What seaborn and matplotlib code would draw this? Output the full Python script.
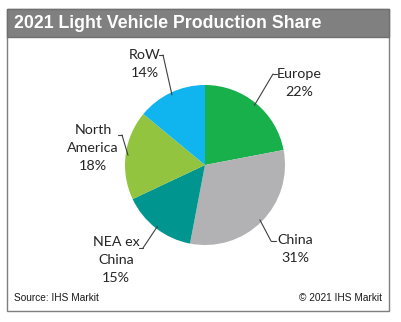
import matplotlib
matplotlib.use("Agg")
import matplotlib.pyplot as plt
from matplotlib.patches import Rectangle
import seaborn as sns
import numpy as np

title = "2021 Light Vehicle Production Share"
categories = ["Europe", "China", "NEA ex\nChina", "North\nAmerica", "RoW"]
shares = [22, 31, 15, 18, 14]
colors = ["#17b04b", "#b2b2b4", "#00968f", "#92c43f", "#10b4ee"]
source_text = "Source: IHS Markit"
copyright_text = "\u00a9 2021 IHS Markit"

sns.set_theme(style="white")
plt.rcParams["font.family"] = ["Lato", "DejaVu Sans"]

W, H = 401, 322
fig = plt.figure(figsize=(W / 100, H / 100), dpi=100)
fig.patch.set_facecolor("white")

def fx(px):
    return px / W

def fy(py):
    return 1 - py / H

# outer frame
fig.patches.append(Rectangle((fx(7), fy(311)), fx(389) - fx(7), fy(9) - fy(311),
                             transform=fig.transFigure, fill=False,
                             edgecolor="#7f7f7f", linewidth=1.0))
# header bar
fig.patches.append(Rectangle((fx(7), fy(37)), fx(389) - fx(7), fy(9) - fy(37),
                             transform=fig.transFigure, facecolor="#808080",
                             edgecolor="#6f6f6f", linewidth=1.0))
fig.text(fx(14), fy(23.5), title, color="white", fontsize=12.8, fontweight="bold",
         family=["Liberation Sans", "DejaVu Sans"], va="center", ha="left")

# pie axes: center (205,165), radius 80 px
cx, cy, r = 205, 165, 80
ax = fig.add_axes([fx(cx - r), fy(cy + r), 2 * r / W, 2 * r / H])
wedges, _ = ax.pie(shares, colors=colors, startangle=90, counterclock=False,
                   radius=1.0, wedgeprops=dict(linewidth=0))
ax.set_xlim(-1, 1)
ax.set_ylim(-1, 1)
ax.set_aspect("equal")
ax.axis("off")

def d(px, py):
    return ((px - cx) / r, (cy - py) / r)

# label positions (pixel centre of text block), tick (x0, x1, y) pixels
label_cfg = [
    ((299, 83), (273, 277, 74)),
    ((295, 249), (276, 271, 241)),
    ((116, 260), (139, 143, 248)),
    ((93, 148), (118, 122, 135)),
    ((145, 64), (159, 163, 55)),
]

total = sum(shares)
start = 90.0
for i, (cat, val) in enumerate(zip(categories, shares)):
    span = 360.0 * val / total
    mid = np.deg2rad(start - span / 2)
    start -= span
    ex, ey = np.cos(mid), np.sin(mid)
    (tx, ty), (x0, x1, yy) = label_cfg[i]
    ax.text(*d(tx, ty), f"{cat}\n{val}%", ha="center", va="center",
            fontsize=10.3, color="#262626", linespacing=1.55, clip_on=False)
    near = x1 if abs(x1 - cx) < abs(x0 - cx) else x0
    p0 = d(x0, yy)
    p1 = d(x1, yy)
    pn = d(near, yy)
    ax.plot([p0[0], p1[0]], [p0[1], p1[1]], color="#404040", lw=0.8, clip_on=False)
    ax.plot([pn[0], ex * 0.97], [pn[1], ey * 0.97], color="#404040", lw=0.8, clip_on=False)

fig.text(fx(14), fy(298), source_text, fontsize=7.3,
         family=["Liberation Sans", "DejaVu Sans"], color="#1a1a1a",
         ha="left", va="center")
fig.text(fx(382), fy(298), copyright_text, fontsize=7.3,
         family=["Liberation Sans", "DejaVu Sans"], color="#1a1a1a",
         ha="right", va="center")

fig.savefig("out.png", dpi=100, facecolor="white")
